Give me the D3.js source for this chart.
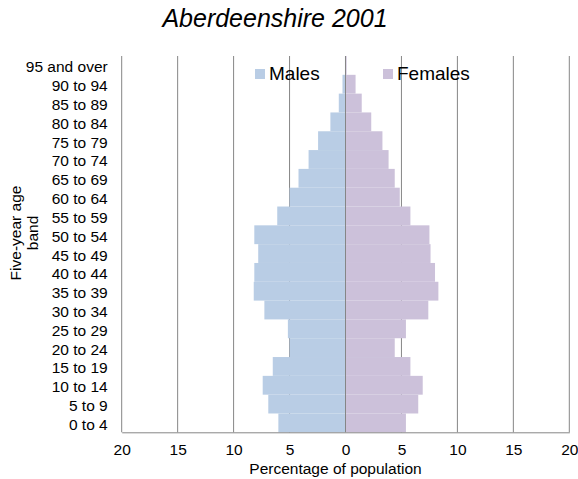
<!DOCTYPE html>
<html>
<head>
<meta charset="utf-8">
<script src="https://cdn.jsdelivr.net/npm/d3@7"></script>
<style>
  body { margin: 0; background: #fff; }
  text { font-family: "Liberation Sans", Arial, sans-serif; fill: #000; }
</style>
</head>
<body>
<div id="chart"></div>
<script>
// Age bands, bottom to top
const ageBands = ['0 to 4', '5 to 9', '10 to 14', '15 to 19', '20 to 24', '25 to 29',
  '30 to 34', '35 to 39', '40 to 44', '45 to 49', '50 to 54', '55 to 59',
  '60 to 64', '65 to 69', '70 to 74', '75 to 79', '80 to 84', '85 to 89',
  '90 to 94', '95 and over'];

// Percentage of population per band
const males = [6.0, 6.9, 7.4, 6.5, 5.0, 5.15, 7.25, 8.2, 8.15, 7.8, 8.15, 6.1,
  5.0, 4.2, 3.3, 2.45, 1.35, 0.6, 0.27, 0.05];
const females = [5.4, 6.5, 6.9, 5.8, 4.4, 5.4, 7.4, 8.3, 8.0, 7.6, 7.5, 5.8,
  4.85, 4.4, 3.85, 3.3, 2.3, 1.45, 0.9, 0.1];

const xTicks = [-20, -15, -10, -5, 0, 5, 10, 15, 20];

const width = 578, height = 479;
const margin = { left: 121.7, right: 8.7, top: 56, bottom: 46.7 };

const svg = d3.select('#chart').append('svg')
  .attr('width', width)
  .attr('height', height);

// Scales
const x = d3.scaleLinear().domain([-20, 20]).range([margin.left, width - margin.right]);
const y = d3.scaleBand().domain(ageBands)
  .range([height - margin.bottom, margin.top])
  .padding(0);

const gridColor = '#868686';

// Vertical gridlines
svg.append('g').selectAll('line')
  .data(xTicks.filter(d => d !== 0))
  .enter().append('line')
  .attr('x1', d => x(d)).attr('x2', d => x(d))
  .attr('y1', margin.top).attr('y2', height - margin.bottom)
  .attr('stroke', gridColor)
  .attr('stroke-width', 1);

// Male bars (left)
svg.append('g').selectAll('rect')
  .data(ageBands)
  .enter().append('rect')
  .attr('x', (d, i) => x(-males[i]))
  .attr('y', d => y(d))
  .attr('width', (d, i) => x(0) - x(-males[i]))
  .attr('height', y.bandwidth())
  .attr('fill', '#b9cde5');

// Female bars (right)
svg.append('g').selectAll('rect')
  .data(ageBands)
  .enter().append('rect')
  .attr('x', x(0))
  .attr('y', d => y(d))
  .attr('width', (d, i) => x(females[i]) - x(0))
  .attr('height', y.bandwidth())
  .attr('fill', '#ccc1da');

// Centre axis line
svg.append('line')
  .attr('x1', x(0)).attr('x2', x(0))
  .attr('y1', margin.top).attr('y2', height - margin.bottom)
  .attr('stroke', gridColor);

// X axis
const xAxis = d3.axisBottom(x)
  .tickValues(xTicks)
  .tickSize(0)
  .tickPadding(12)
  .tickFormat(d => Math.abs(d));

const xAxisG = svg.append('g')
  .attr('transform', 'translate(0,' + (height - margin.bottom) + ')')
  .call(xAxis);
xAxisG.select('.domain').attr('stroke', gridColor);
xAxisG.selectAll('text')
  .style('font-size', '15.5px')
  .style('font-family', '"Liberation Sans", Arial, sans-serif');

// Y axis labels
const yAxis = d3.axisLeft(y).tickSize(0).tickPadding(14);
const yAxisG = svg.append('g')
  .attr('transform', 'translate(' + margin.left + ',0)')
  .call(yAxis);
yAxisG.select('.domain').remove();
yAxisG.selectAll('text')
  .attr('dy', '0.45em')
  .style('font-size', '15.5px')
  .style('font-family', '"Liberation Sans", Arial, sans-serif');

// Axis titles
svg.append('text')
  .attr('x', 335.5)
  .attr('y', 474)
  .attr('text-anchor', 'middle')
  .style('font-size', '15.5px')
  .text('Percentage of population');

const yTitle = svg.append('text')
  .attr('transform', 'translate(21,233) rotate(-90)')
  .attr('text-anchor', 'middle')
  .style('font-size', '15.5px');
yTitle.append('tspan').attr('x', 0).attr('y', 0).text('Five-year age');
yTitle.append('tspan').attr('x', 0).attr('y', 17).text('band');

// Title
svg.append('text')
  .attr('x', 275)
  .attr('y', 27)
  .attr('text-anchor', 'middle')
  .style('font-size', '25px')
  .style('font-style', 'italic')
  .text('Aberdeenshire 2001');

// Legend
const legend = [
  { name: 'Males', color: '#b9cde5', x: 255 },
  { name: 'Females', color: '#ccc1da', x: 383 }
];
const lg = svg.append('g').selectAll('g')
  .data(legend)
  .enter().append('g')
  .attr('transform', d => 'translate(' + d.x + ',0)');
lg.append('rect')
  .attr('x', 0).attr('y', 69)
  .attr('width', 10).attr('height', 10)
  .attr('fill', d => d.color);
lg.append('text')
  .attr('x', 14).attr('y', 80)
  .style('font-size', '19px')
  .text(d => d.name);
</script>
</body>
</html>
